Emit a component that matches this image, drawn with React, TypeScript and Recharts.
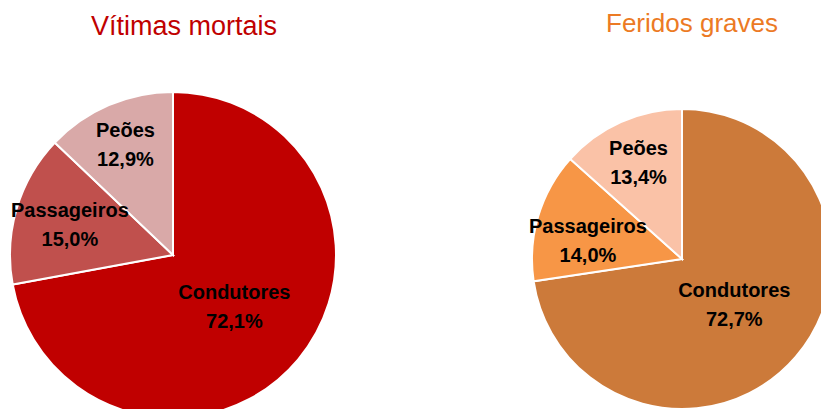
import React from "react";
import { PieChart, Pie, Cell } from "recharts";

const categories = ["Condutores", "Passageiros", "Peões"];
const mortaisValues = [72.1, 15.0, 12.9];
const gravesValues = [72.7, 14.0, 13.4];
const mortaisLabels = ["72,1%", "15,0%", "12,9%"];
const gravesLabels = ["72,7%", "14,0%", "13,4%"];
const titles = ["Vítimas mortais", "Feridos graves"];

const mortaisColors = ["#C00000", "#C0504D", "#D9A9A8"];
const gravesColors = ["#CC7A3A", "#F79646", "#FAC2A7"];

const mortaisData = categories.map((name, i) => ({ name, value: mortaisValues[i], pct: mortaisLabels[i] }));
const gravesData = categories.map((name, i) => ({ name, value: gravesValues[i], pct: gravesLabels[i] }));

const RAD = Math.PI / 180;
const noMargin = { top: 0, right: 0, bottom: 0, left: 0 };

function makeLabel(factors: number[], shifts: number[]) {
  return (props: any) => {
    const { cx, cy, midAngle, outerRadius, index, payload } = props;
    const r = outerRadius * factors[index];
    const a = midAngle + shifts[index];
    const x = cx + r * Math.cos(-a * RAD);
    const y = cy + r * Math.sin(-a * RAD);
    const d = payload && payload.payload ? payload.payload : payload;
    return (
      <text
        x={x}
        y={y}
        textAnchor="middle"
        fill="#000"
        fontFamily="'Liberation Sans', Arial, sans-serif"
        fontWeight="bold"
        fontSize={20}
      >
        <tspan x={x} dy={-7}>{d.name}</tspan>
        <tspan x={x} dy={29}>{d.pct}</tspan>
      </text>
    );
  };
}

const titleStyle: React.CSSProperties = {
  position: "absolute",
  fontFamily: "'Liberation Sans', Arial, sans-serif",
  whiteSpace: "nowrap",
  transform: "translateX(-50%)",
  lineHeight: "30px",
};

export default function App() {
  return (
    <div style={{ position: "absolute", left: 0, top: 0, width: 821, height: 409, overflow: "hidden", background: "#fff" }}>
      <div style={{ ...titleStyle, left: 184, top: 11, fontSize: 27, color: "#C00000" }}>{titles[0]}</div>
      <div style={{ ...titleStyle, left: 692, top: 8, fontSize: 26, color: "#EC7A24" }}>{titles[1]}</div>
      <div style={{ position: "absolute", left: 0, top: 0 }}>
        <PieChart width={410} height={430} margin={noMargin}>
          <Pie
            data={mortaisData}
            dataKey="value"
            nameKey="name"
            cx={173}
            cy={255}
            outerRadius={163}
            startAngle={90}
            endAngle={-270}
            stroke="#fff"
            strokeWidth={2}
            isAnimationActive={false}
            labelLine={false}
            label={makeLabel([0.49, 0.66, 0.74], [0, 0, 0])}
          >
            {mortaisData.map((d, i) => (
              <Cell key={d.name} fill={mortaisColors[i]} />
            ))}
          </Pie>
        </PieChart>
      </div>
      <div style={{ position: "absolute", left: 410, top: 0 }}>
        <PieChart width={430} height={430} margin={noMargin}>
          <Pie
            data={gravesData}
            dataKey="value"
            nameKey="name"
            cx={272}
            cy={259}
            outerRadius={150}
            startAngle={90}
            endAngle={-270}
            stroke="#fff"
            strokeWidth={2}
            isAnimationActive={false}
            labelLine={false}
            label={makeLabel([0.46, 0.64, 0.71], [0, 5, 0])}
          >
            {gravesData.map((d, i) => (
              <Cell key={d.name} fill={gravesColors[i]} />
            ))}
          </Pie>
        </PieChart>
      </div>
    </div>
  );
}
